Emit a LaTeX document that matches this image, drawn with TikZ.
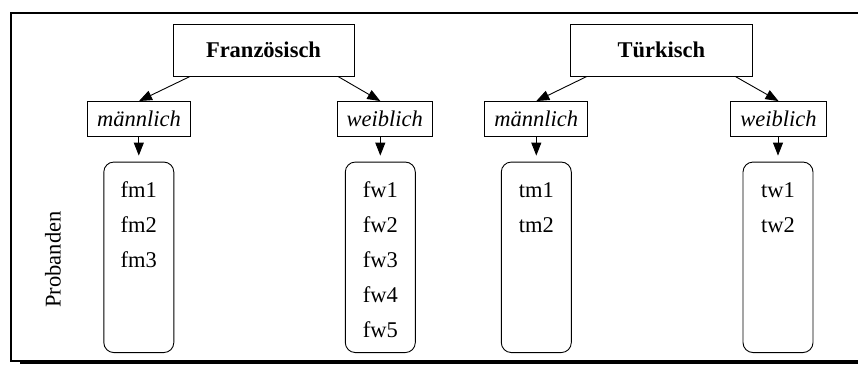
\documentclass[tikz,border=0pt]{standalone}
\usepackage{fontspec}
\setmainfont{Liberation Serif}
\usetikzlibrary{arrows.meta,calc}
\tikzset{
  topbox/.style={draw, line width=0.9pt, minimum width=181pt, minimum height=52pt, inner sep=0pt, font=\bfseries},
  sexbox/.style={draw, line width=0.9pt, minimum height=35pt, inner xsep=9.5pt, inner ysep=0pt, font=\itshape},
  listbox/.style={draw, line width=0.9pt, rounded corners=10pt, minimum width=70pt, minimum height=190.5pt, inner sep=0pt},
  item/.style={anchor=base, inner sep=0pt},
  arr/.style={line width=0.9pt, -{Triangle[length=13pt,width=10pt]}},
  frameline/.style={line width=2pt}
}
\begin{document}
\begin{tikzpicture}[x=1pt,y=-1pt]
\fontsize{22.5}{27}\selectfont
\useasboundingbox (0,0) rectangle (858,364);
% frame
\draw[frameline] (858,12.5) -- (11,12.5) -- (11,361);
\draw[frameline] (10,361) -- (858,361);
\fill (20,360) rectangle (858,364);
% top nodes
\node[topbox] (F) at (263.5,50) {Französisch};
\node[topbox, minimum width=182pt] (T) at (661.3,50) {Türkisch};
% sex nodes
\node[sexbox] (FM) at (139,119) {männlich};
\node[sexbox] (FW) at (384.8,119) {weiblich};
\node[sexbox] (TM) at (536.3,119) {männlich};
\node[sexbox] (TW) at (778.5,119) {weiblich};
% list boxes
\node[listbox] (FML) at (138.8,257.3) {};
\node[listbox] (FWL) at (380.3,257.3) {};
\node[listbox] (TML) at (536.3,257.3) {};
\node[listbox] (TWL) at (778,257.3) {};
% items
\node[item] (fm1) at (138.8,197) {fm1};
\node[item] (fm2) at (138.8,232) {fm2};
\node[item] (fm3) at (138.8,267) {fm3};
\node[item] (fw1) at (380.3,197) {fw1};
\node[item] (fw2) at (380.3,232) {fw2};
\node[item] (fw3) at (380.3,267) {fw3};
\node[item] (fw4) at (380.3,302) {fw4};
\node[item] (fw5) at (380.3,337) {fw5};
\node[item] (tm1) at (536.3,197) {tm1};
\node[item] (tm2) at (536.3,232) {tm2};
\node[item] (tw1) at (778,197) {tw1};
\node[item] (tw2) at (778,232) {tw2};
% side label
\node[rotate=90, inner sep=0pt] (prob) at (53,259.5) {Probanden};
% arrows
\draw[arr] ($(F.south west)+(17.5,0)$) -- (FM.north);
\draw[arr] ($(F.south east)+(-16.5,0)$) -- (FWL.north |- FW.north);
\draw[arr] ($(T.south west)+(17,0)$) -- (TM.north);
\draw[arr] ($(T.south east)+(-17.5,0)$) -- (TW.north);
\draw[arr, shorten >=6pt] (FML.north |- FM.south) -- (FML.north);
\draw[arr, shorten >=6pt] (FWL.north |- FW.south) -- (FWL.north);
\draw[arr, shorten >=6pt] (TML.north |- TM.south) -- (TML.north);
\draw[arr, shorten >=6pt] (TWL.north |- TW.south) -- (TWL.north);
\end{tikzpicture}
\end{document}
